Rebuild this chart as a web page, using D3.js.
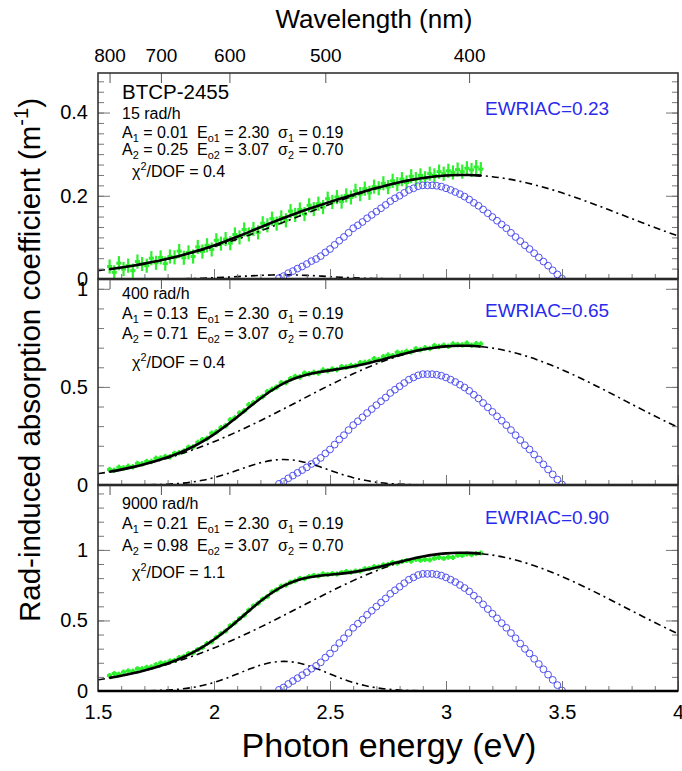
<!DOCTYPE html>
<html><head><meta charset="utf-8">
<script src="https://cdn.jsdelivr.net/npm/d3@7"></script>
<style>
html,body{margin:0;padding:0;background:#fff;}
svg{display:block;font-family:"Liberation Sans",Arial,Helvetica,sans-serif;}
text{white-space:pre;}
</style></head><body>
<svg id="chart" width="682" height="771"></svg>
<script>
// ---------------- DATA ----------------
const xTickLabels = [1.5, 2, 2.5, 3, 3.5, 4];
const wavelengthTicks = [800, 700, 600, 500, 400];
const doses = ["15 rad/h", "400 rad/h", "9000 rad/h"];
const A1s = ["0.01", "0.13", "0.21"];
const A2s = ["0.25", "0.71", "0.98"];
const chi2s = ["0.4", "0.4", "1.1"];
const ewriacs = ["0.23", "0.65", "0.90"];
const yMaxes = [0.495, 1.05, 1.46];
const yTicks15 = [0, 0.2, 0.4];
const yTicks400 = [0, 0.5, 1];
const yTicks9000 = [0, 0.5, 1];
const errs = [0.017, 0.014, 0.018];

// fit-component energy grid (eV)
const energyComp = [1.50,1.55,1.60,1.65,1.70,1.75,1.80,1.85,1.90,1.95,2.00,2.05,2.10,2.15,2.20,2.25,2.30,2.35,2.40,2.45,2.50,2.55,2.60,2.65,2.70,2.75,2.80,2.85,2.90,2.95,3.00,3.05,3.10,3.15,3.20,3.25,3.30,3.35,3.40,3.45,3.50,3.55,3.60,3.65,3.70,3.75,3.80,3.85,3.90,3.95,4.00];
const comp1_15 = [0,0,0,0,0.0001,0.0002,0.0003,0.0006,0.0011,0.0018,0.0029,0.0042,0.0058,0.0073,0.0087,0.0097,0.0100,0.0097,0.0087,0.0073,0.0058,0.0042,0.0029,0.0018,0.0011,0.0006,0.0003,0.0002,0.0001,0,0,0,0,0,0,0,0,0,0,0,0,0,0,0,0,0,0,0,0,0,0];
const comp1_400 = [0,0.0001,0.0001,0.0004,0.0009,0.0020,0.0041,0.0079,0.0142,0.0238,0.0374,0.0547,0.0748,0.0952,0.1132,0.1256,0.1300,0.1256,0.1132,0.0952,0.0748,0.0547,0.0374,0.0238,0.0142,0.0079,0.0041,0.0020,0.0009,0.0004,0.0001,0.0001,0,0,0,0,0,0,0,0,0,0,0,0,0,0,0,0,0,0,0];
const comp1_9000 = [0,0.0001,0.0002,0.0006,0.0014,0.0032,0.0066,0.0127,0.0229,0.0385,0.0604,0.0884,0.1208,0.1537,0.1829,0.2029,0.2100,0.2029,0.1829,0.1537,0.1208,0.0884,0.0604,0.0385,0.0229,0.0127,0.0066,0.0032,0.0014,0.0006,0.0002,0.0001,0,0,0,0,0,0,0,0,0,0,0,0,0,0,0,0,0,0,0];
const comp2_15 = [0.0202,0.0237,0.0276,0.0320,0.0368,0.0423,0.0482,0.0548,0.0619,0.0695,0.0777,0.0865,0.0957,0.1054,0.1155,0.1259,0.1365,0.1473,0.1581,0.1689,0.1795,0.1897,0.1996,0.2088,0.2174,0.2252,0.2321,0.2380,0.2427,0.2464,0.2488,0.2499,0.2498,0.2484,0.2457,0.2419,0.2369,0.2308,0.2237,0.2158,0.2070,0.1976,0.1877,0.1774,0.1668,0.1560,0.1451,0.1344,0.1238,0.1135,0.1034];
const comp2_400 = [0.0574,0.0672,0.0783,0.0907,0.1046,0.1200,0.1370,0.1555,0.1757,0.1974,0.2207,0.2456,0.2719,0.2993,0.3279,0.3575,0.3877,0.4183,0.4491,0.4797,0.5096,0.5388,0.5667,0.5931,0.6174,0.6396,0.6591,0.6758,0.6893,0.6996,0.7065,0.7097,0.7094,0.7054,0.6979,0.6869,0.6727,0.6554,0.6353,0.6127,0.5879,0.5613,0.5331,0.5037,0.4736,0.4430,0.4122,0.3816,0.3515,0.3222,0.2937];
const comp2_9000 = [0.0792,0.0928,0.1081,0.1252,0.1444,0.1656,0.1890,0.2146,0.2425,0.2724,0.3047,0.3390,0.3752,0.4132,0.4527,0.4934,0.5352,0.5774,0.6199,0.6621,0.7034,0.7437,0.7822,0.8186,0.8522,0.8828,0.9097,0.9328,0.9515,0.9657,0.9751,0.9796,0.9791,0.9736,0.9632,0.9482,0.9285,0.9046,0.8769,0.8457,0.8114,0.7747,0.7358,0.6953,0.6537,0.6114,0.5689,0.5268,0.4852,0.4447,0.4054];

// total-fit energy grid (eV)
const energyFit = [1.55,1.60,1.65,1.70,1.75,1.80,1.85,1.90,1.95,2.00,2.05,2.10,2.15,2.20,2.25,2.30,2.35,2.40,2.45,2.50,2.55,2.60,2.65,2.70,2.75,2.80,2.85,2.90,2.95,3.00,3.05,3.10,3.15];
const fit15 = [0.0237,0.0276,0.0320,0.0369,0.0425,0.0485,0.0554,0.0630,0.0713,0.0806,0.0907,0.1015,0.1127,0.1242,0.1356,0.1465,0.1570,0.1668,0.1762,0.1853,0.1939,0.2025,0.2106,0.2185,0.2258,0.2324,0.2382,0.2428,0.2464,0.2488,0.2499,0.2498,0.2484];
const fit400 = [0.0673,0.0784,0.0911,0.1055,0.1220,0.1411,0.1634,0.1899,0.2212,0.2581,0.3003,0.3467,0.3945,0.4411,0.4831,0.5177,0.5439,0.5623,0.5749,0.5844,0.5935,0.6041,0.6169,0.6316,0.6475,0.6632,0.6778,0.6902,0.7000,0.7066,0.7097,0.7094,0.7054];
const fit9000 = [0.0929,0.1083,0.1258,0.1458,0.1688,0.1956,0.2273,0.2654,0.3109,0.3651,0.4274,0.4960,0.5669,0.6356,0.6963,0.7452,0.7803,0.8028,0.8158,0.8242,0.8321,0.8426,0.8571,0.8751,0.8955,0.9163,0.9360,0.9529,0.9663,0.9753,0.9797,0.9791,0.9736];

// measured data energy grid (eV)
const energyData = [1.55,1.57,1.59,1.61,1.63,1.65,1.67,1.69,1.71,1.73,1.75,1.77,1.79,1.81,1.83,1.85,1.87,1.89,1.91,1.93,1.95,1.97,1.99,2.01,2.03,2.05,2.07,2.09,2.11,2.13,2.15,2.17,2.19,2.21,2.23,2.25,2.27,2.29,2.31,2.33,2.35,2.37,2.39,2.41,2.43,2.45,2.47,2.49,2.51,2.53,2.55,2.57,2.59,2.61,2.63,2.65,2.67,2.69,2.71,2.73,2.75,2.77,2.79,2.81,2.83,2.85,2.87,2.89,2.91,2.93,2.95,2.97,2.99,3.01,3.03,3.05,3.07,3.09,3.11,3.13,3.15];
const data15 = [0.030,0.016,0.038,0.024,0.032,0.020,0.042,0.036,0.032,0.050,0.039,0.052,0.037,0.054,0.052,0.067,0.051,0.064,0.054,0.077,0.066,0.081,0.071,0.093,0.085,0.096,0.086,0.107,0.100,0.119,0.107,0.120,0.112,0.134,0.129,0.145,0.133,0.148,0.141,0.163,0.154,0.167,0.156,0.177,0.168,0.181,0.173,0.193,0.185,0.197,0.186,0.201,0.196,0.212,0.204,0.217,0.207,0.222,0.218,0.230,0.221,0.236,0.228,0.240,0.232,0.247,0.240,0.249,0.242,0.253,0.249,0.258,0.253,0.260,0.256,0.263,0.258,0.266,0.262,0.269,0.264];
const data400 = [0.079,0.075,0.090,0.087,0.095,0.093,0.110,0.108,0.120,0.120,0.136,0.137,0.145,0.144,0.161,0.165,0.173,0.192,0.194,0.217,0.231,0.237,0.264,0.271,0.292,0.302,0.332,0.342,0.367,0.379,0.409,0.420,0.441,0.451,0.476,0.488,0.499,0.521,0.522,0.542,0.553,0.551,0.570,0.567,0.574,0.571,0.586,0.582,0.591,0.588,0.603,0.601,0.609,0.608,0.623,0.625,0.629,0.644,0.639,0.654,0.662,0.659,0.676,0.673,0.681,0.679,0.694,0.690,0.699,0.696,0.710,0.706,0.712,0.707,0.719,0.716,0.714,0.723,0.712,0.720,0.719];
const data9000 = [0.110,0.124,0.119,0.134,0.142,0.141,0.158,0.158,0.168,0.171,0.187,0.199,0.199,0.212,0.217,0.237,0.245,0.265,0.271,0.294,0.308,0.337,0.348,0.381,0.407,0.425,0.463,0.483,0.514,0.537,0.573,0.603,0.622,0.651,0.669,0.703,0.718,0.743,0.751,0.771,0.780,0.798,0.796,0.811,0.819,0.816,0.830,0.826,0.832,0.829,0.840,0.847,0.842,0.850,0.850,0.866,0.868,0.881,0.880,0.894,0.897,0.911,0.906,0.918,0.924,0.920,0.933,0.927,0.932,0.929,0.940,0.946,0.940,0.948,0.946,0.962,0.961,0.971,0.966,0.974,0.978];

// emission-weighted RIAC energy grid (eV)
const energyEW = [2.28,2.30,2.32,2.34,2.36,2.38,2.40,2.42,2.44,2.46,2.48,2.50,2.52,2.54,2.56,2.58,2.60,2.62,2.64,2.66,2.68,2.70,2.72,2.74,2.76,2.78,2.80,2.82,2.84,2.86,2.88,2.90,2.92,2.94,2.96,2.98,3.00,3.02,3.04,3.06,3.08,3.10,3.12,3.14,3.16,3.18,3.20,3.22,3.24,3.26,3.28,3.30,3.32,3.34,3.36,3.38,3.40,3.42,3.44,3.46,3.48,3.50];
const ew15 = [0.002,0.007,0.014,0.019,0.025,0.030,0.036,0.043,0.048,0.055,0.064,0.072,0.082,0.092,0.101,0.111,0.122,0.129,0.137,0.146,0.154,0.162,0.170,0.178,0.187,0.194,0.200,0.207,0.214,0.218,0.223,0.225,0.225,0.225,0.224,0.222,0.218,0.214,0.209,0.204,0.198,0.191,0.183,0.176,0.167,0.158,0.149,0.140,0.131,0.122,0.111,0.101,0.091,0.081,0.072,0.062,0.052,0.042,0.032,0.021,0.011,0.001];
const ew400 = [0.006,0.017,0.034,0.048,0.062,0.076,0.090,0.107,0.121,0.138,0.161,0.181,0.206,0.232,0.254,0.280,0.305,0.325,0.345,0.367,0.387,0.407,0.427,0.446,0.469,0.486,0.503,0.520,0.537,0.548,0.559,0.565,0.565,0.565,0.562,0.557,0.548,0.537,0.525,0.511,0.497,0.480,0.460,0.441,0.418,0.396,0.373,0.350,0.328,0.305,0.280,0.254,0.229,0.203,0.181,0.155,0.130,0.105,0.079,0.054,0.028,0.003];
const ew9000 = [0.008,0.025,0.050,0.071,0.091,0.112,0.133,0.158,0.178,0.203,0.237,0.266,0.303,0.340,0.374,0.411,0.448,0.477,0.506,0.540,0.569,0.598,0.627,0.656,0.689,0.714,0.739,0.764,0.789,0.805,0.822,0.830,0.830,0.830,0.826,0.818,0.805,0.789,0.772,0.751,0.730,0.706,0.676,0.647,0.614,0.581,0.548,0.515,0.481,0.448,0.411,0.374,0.336,0.299,0.266,0.228,0.191,0.154,0.116,0.079,0.042,0.004];

// ---------------- CHART ----------------
const panels = [
  {yTicks: yTicks15, minorStep: 0.025, data: data15, fit: fit15, c1: comp1_15, c2: comp2_15, ew: ew15},
  {yTicks: yTicks400, minorStep: 0.1, data: data400, fit: fit400, c1: comp1_400, c2: comp2_400, ew: ew400},
  {yTicks: yTicks9000, minorStep: 0.1, data: data9000, fit: fit9000, c1: comp1_9000, c2: comp2_9000, ew: ew9000}
];
panels.forEach((p, i) => {
  p.dose = doses[i]; p.A1 = A1s[i]; p.A2 = A2s[i]; p.chi = chi2s[i]; p.ewriac = ewriacs[i];
  p.yMax = yMaxes[i]; p.err = errs[i];
});

const HC = 1239.84;
const FONT = '"Liberation Sans",Arial,Helvetica,sans-serif';
const svg = d3.select('#chart');
const L = 98, R = 678;
const x = d3.scaleLinear().domain([1.5, 4]).range([L, R]);
const panelTop = [73, 279, 485];
const panelH = 206;
const textLayout = [
  {dose: 113, a1: 132, a2: 149, chi: 171, ew: 108},
  {dose: 293, a1: 313, a2: 333, chi: 362, ew: 310},
  {dose: 503, a1: 523, a2: 545, chi: 572, ew: 517}
];

function rich(sel, parts, size) {
  let off = 0;
  parts.forEach(([t, k]) => {
    const ts = sel.append('tspan').text(t);
    const target = k === 'sub' ? size * 0.25 : (k === 'sup' ? -size * 0.42 : 0);
    ts.attr('dy', (target - off).toFixed(2));
    off = target;
    if (k) ts.attr('font-size', (size * 0.68).toFixed(1));
  });
}
function styleAxis(g, color) {
  g.select('.domain').remove();
  g.selectAll('.tick line').attr('stroke', color || '#777').attr('stroke-width', 1);
  g.attr('font-family', FONT);
}
const minorX = d3.range(1.5, 4.0001, 0.1).map(v => +v.toFixed(2));

panels.forEach((p, i) => {
  const top = panelTop[i], bottom = top + panelH;
  const y = d3.scaleLinear().domain([0, p.yMax]).range([bottom, top]);

  svg.append('clipPath').attr('id', 'clip' + i)
    .append('rect').attr('x', L).attr('y', top).attr('width', R - L).attr('height', panelH);
  const plot = svg.append('g').attr('clip-path', `url(#clip${i})`);

  // measured data with error bars (green)
  const pts = energyData.map((e, k) => ({e, v: p.data[k]})).filter(d => d.v !== undefined);
  const gd = plot.append('g').attr('stroke', '#2cf02c').attr('stroke-width', 2.2);
  gd.selectAll('line.v').data(pts).join('line').attr('class', 'v')
    .attr('x1', d => x(d.e)).attr('x2', d => x(d.e))
    .attr('y1', d => y(d.v - p.err)).attr('y2', d => y(d.v + p.err));
  gd.selectAll('line.h').data(pts).join('line').attr('class', 'h')
    .attr('x1', d => x(d.e - 0.011)).attr('x2', d => x(d.e + 0.011))
    .attr('y1', d => y(d.v)).attr('y2', d => y(d.v)).attr('stroke-width', 3);

  // fit components (dash-dot)
  const lineC = d3.line().x(d => x(d[0])).y(d => y(d[1])).curve(d3.curveMonotoneX);
  [p.c1, p.c2].forEach(arr => {
    plot.append('path').datum(energyComp.map((e, k) => [e, arr[k]]))
      .attr('d', lineC).attr('fill', 'none').attr('stroke', '#000')
      .attr('stroke-width', 1.6).attr('stroke-dasharray', '7,4,2,4');
  });

  // EWRIAC circles (blue)
  const ewPts = energyEW.map((e, k) => [e, p.ew[k]]).filter(d => d[1] !== undefined);
  plot.append('g').selectAll('circle').data(ewPts).join('circle')
    .attr('cx', d => x(d[0])).attr('cy', d => y(d[1])).attr('r', 3.4)
    .attr('fill', 'none').attr('stroke', '#5252f0').attr('stroke-width', 1);

  // total fit (black solid)
  plot.append('path').datum(energyFit.map((e, k) => [e, p.fit[k]]))
    .attr('d', lineC).attr('fill', 'none').attr('stroke', '#000').attr('stroke-width', 2.6);

  // y axes: left (labels) and right (mirror)
  const minors = d3.range(0, p.yMax + 1e-9, p.minorStep);
  const gl = svg.append('g').attr('transform', `translate(${L},0)`)
    .call(d3.axisLeft(y).tickValues(p.yTicks).tickSize(-12).tickPadding(10).tickFormat(d3.format('~g')));
  styleAxis(gl); gl.attr('font-size', 20).selectAll('text').attr('fill', '#000');
  const glm = svg.append('g').attr('transform', `translate(${L},0)`)
    .call(d3.axisLeft(y).tickValues(minors).tickSize(-6).tickFormat(''));
  styleAxis(glm);
  const gr = svg.append('g').attr('transform', `translate(${R},0)`)
    .call(d3.axisRight(y).tickValues(p.yTicks).tickSize(-12).tickFormat(''));
  styleAxis(gr);
  const grm = svg.append('g').attr('transform', `translate(${R},0)`)
    .call(d3.axisRight(y).tickValues(minors).tickSize(-6).tickFormat(''));
  styleAxis(grm);

  // bottom eV ticks
  const gb = svg.append('g').attr('transform', `translate(0,${bottom})`)
    .call(d3.axisBottom(x).tickValues(xTickLabels).tickSize(-10).tickPadding(14)
      .tickFormat(i === 2 ? d3.format('~g') : ''));
  styleAxis(gb); gb.attr('font-size', 20).selectAll('text').attr('fill', '#000');
  const gbm = svg.append('g').attr('transform', `translate(0,${bottom})`)
    .call(d3.axisBottom(x).tickValues(minorX).tickSize(-5).tickFormat(''));
  styleAxis(gbm);

  // wavelength ticks at panel top
  const gt = svg.append('g').attr('transform', `translate(0,${top})`)
    .call(d3.axisTop(x).tickValues(wavelengthTicks.map(nm => HC / nm)).tickSize(-10).tickPadding(11)
      .tickFormat(i === 0 ? (e => String(Math.round(HC / e / 10) * 10)) : ''));
  styleAxis(gt, '#555'); gt.attr('font-size', 19).selectAll('text').attr('fill', '#000');

  // frame and zero line
  svg.append('rect').attr('x', L).attr('y', top).attr('width', R - L).attr('height', panelH)
    .attr('fill', 'none').attr('stroke', '#333').attr('stroke-width', 1.6);
  svg.append('line').attr('x1', L).attr('x2', R).attr('y1', y(0)).attr('y2', y(0))
    .attr('stroke', '#000').attr('stroke-width', 2.4);

  // annotations
  const tl = textLayout[i];
  const fs = 16;
  if (i === 0) {
    svg.append('text').attr('x', 122).attr('y', 99).attr('font-size', 20.5).attr('font-family', FONT)
      .text('BTCP-2455');
  }
  svg.append('text').attr('x', 122).attr('y', tl.dose + 5.6).attr('font-size', fs).attr('font-family', FONT).text(p.dose);
  rich(svg.append('text').attr('x', 122).attr('y', tl.a1 + 5.6).attr('font-size', fs).attr('font-family', FONT),
    [['A'], ['1', 'sub'], [' = ' + p.A1 + '  E'], ['o1', 'sub'], [' = 2.30  σ'], ['1', 'sub'], [' = 0.19']], fs);
  rich(svg.append('text').attr('x', 122).attr('y', tl.a2 + 5.6).attr('font-size', fs).attr('font-family', FONT),
    [['A'], ['2', 'sub'], [' = ' + p.A2 + '  E'], ['o2', 'sub'], [' = 3.07  σ'], ['2', 'sub'], [' = 0.70']], fs);
  rich(svg.append('text').attr('x', 132).attr('y', tl.chi + 5.6).attr('font-size', fs).attr('font-family', FONT),
    [['χ'], ['2', 'sup'], ['/DOF = ' + p.chi]], fs);
  svg.append('text').attr('x', 485).attr('y', tl.ew + 7).attr('font-size', 19).attr('font-family', FONT)
    .attr('fill', '#2a2aec').text('EWRIAC=' + p.ewriac);
});

// titles
svg.append('text').attr('x', 374).attr('y', 28).attr('text-anchor', 'middle')
  .attr('font-size', 26).attr('font-family', FONT).text('Wavelength (nm)');
svg.append('text').attr('x', 389).attr('y', 757).attr('text-anchor', 'middle')
  .attr('font-size', 34).attr('font-family', FONT).text('Photon energy (eV)');
rich(svg.append('text').attr('transform', 'translate(40,360) rotate(-90)').attr('text-anchor', 'middle')
  .attr('font-size', 29.5).attr('font-family', FONT),
  [['Rad-induced absorption coefficient (m'], ['-1', 'sup'], [')']], 29.5);
</script>
</body></html>
